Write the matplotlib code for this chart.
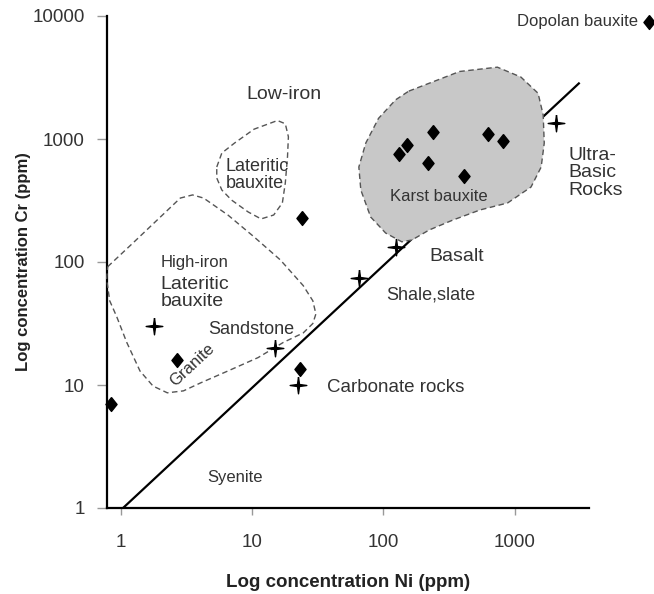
import matplotlib
matplotlib.use("Agg")
import matplotlib.pyplot as plt
from matplotlib.ticker import NullLocator

plt.rcParams["font.family"] = "Liberation Sans"

# bauxite samples (diamonds)
diamond_ni = [0.84, 2.7, 23, 24]
diamond_cr = [7, 16, 13.5, 230]
karst_ni = [131, 151, 240, 219, 409, 627, 810]
karst_cr = [755, 894, 1130, 638, 500, 1107, 963]
dopolan_ni = [10500]
dopolan_cr = [9000]

# reference rocks (stars)
star_ni = [1.8, 15, 22.5, 65, 124, 2080]
star_cr = [30, 20, 10, 74, 132, 1360]

# Ni = Cr reference line
line_ni = [1.04, 3080]
line_cr = [1, 2830]

# field outlines
lowiron_ni = [5.38, 5.88, 7.35, 10.35, 15.6, 17.9, 18.9, 18.6, 17.9, 17.0, 14.6, 11.7, 9.34, 6.97, 5.88, 5.38]
lowiron_cr = [592, 769, 927, 1202, 1413, 1330, 1042, 714, 439, 302, 241, 224, 255, 319, 385, 482]

highiron_ni = [0.794, 1.24, 2.0, 2.84, 3.52, 4.27, 6.54, 10.35, 16.4, 24.5, 29.0, 30.6, 29.0, 24.5,
               17.3, 11.1, 6.54, 4.05, 3.0, 2.26, 1.76, 1.40, 1.11, 0.932, 0.823, 0.78]
highiron_cr = [91.5, 143, 232, 331, 351, 331, 241, 160, 104, 64.3, 48.4, 37.8, 31.6, 26.5,
               22.2, 16.7, 13.0, 10.4, 8.96, 8.64, 9.8, 13.0, 22.2, 35.8, 48.4, 72.7]

karst_field_ni = [156, 381, 738, 1114, 1507, 1648, 1679, 1591, 1331, 883, 545, 337, 223, 165,
                  138, 104, 80, 67.3, 65, 73.4, 91.8, 124]
karst_field_cr = [2450, 3540, 3837, 3190, 2354, 1567, 927, 592, 407, 302, 265, 219, 182, 151,
                  146, 172, 232, 385, 592, 927, 1472, 2084]

ticks = [1, 10, 100, 1000, 10000]
tick_labels = ["1", "10", "100", "1000", "10000"]

text_col = "#333333"
dash_col = "#555555"

fig = plt.figure(figsize=(6.54, 5.94), dpi=100)
ax = fig.add_axes([107 / 654, 86 / 594, 482 / 654, 492 / 594])
ax.set_xscale("log")
ax.set_yscale("log")
ax.set_xlim(0.785, 3680)
ax.set_ylim(1, 10000)

ax.plot(line_ni, line_cr, color="black", lw=1.6, zorder=2)

ax.fill(karst_field_ni, karst_field_cr, facecolor="#c8c8c8", edgecolor=dash_col,
        linestyle=(0, (4, 2.5)), lw=1.0, zorder=3)
ax.fill(lowiron_ni, lowiron_cr, fill=False, edgecolor=dash_col,
        linestyle=(0, (4, 2.5)), lw=1.0, zorder=3)
ax.fill(highiron_ni, highiron_cr, fill=False, edgecolor=dash_col,
        linestyle=(0, (4, 2.5)), lw=1.0, zorder=3, clip_on=False)

diamond = [(0, 1), (0.8, 0), (0, -1), (-0.8, 0), (0, 1)]
star = [(0, 1), (0.12, 0.12), (1, 0), (0.12, -0.12), (0, -1), (-0.12, -0.12),
        (-1, 0), (-0.12, 0.12), (0, 1)]

ax.plot(diamond_ni, diamond_cr, ls="none", marker=diamond, ms=10, color="black",
        zorder=5, clip_on=False)
ax.plot(karst_ni, karst_cr, ls="none", marker=diamond, ms=10, color="black", zorder=5)
ax.plot(dopolan_ni, dopolan_cr, ls="none", marker=diamond, ms=10, color="black",
        zorder=5, clip_on=False)
ax.plot(star_ni, star_cr, ls="none", marker=star, ms=12, color="black", zorder=5)

# labels
ax.text(17.6, 2300, "Low-iron", fontsize=14, color=text_col, ha="center", va="center")
ax.text(6.3, 509, "Lateritic\nbauxite", fontsize=13, color=text_col, ha="left", va="center",
        linespacing=1.05)
ax.text(2.0, 100, "High-iron", fontsize=12, color=text_col, ha="left", va="center")
ax.text(2.0, 56, "Lateritic\nbauxite", fontsize=14, color=text_col, ha="left", va="center",
        linespacing=1.0)
ax.text(9.8, 28.5, "Sandstone", fontsize=13, color=text_col, ha="center", va="center")
ax.text(3.52, 14.5, "Granite", fontsize=12, color=text_col, ha="center", va="center",
        rotation=43)
ax.text(7.4, 1.76, "Syenite", fontsize=12, color=text_col, ha="center", va="center")
ax.text(124, 9.6, "Carbonate rocks", fontsize=13.5, color=text_col, ha="center", va="center")
ax.text(228, 53.8, "Shale,slate", fontsize=13, color=text_col, ha="center", va="center")
ax.text(361, 110, "Basalt", fontsize=14, color=text_col, ha="center", va="center")
ax.text(2580, 530, "Ultra-\nBasic\nRocks", fontsize=14, color=text_col, ha="left",
        va="center", linespacing=1.05)
ax.text(262, 344, "Karst bauxite", fontsize=12, color=text_col, ha="center", va="center",
        zorder=4)
ax.text(8670, 9030, "Dopolan bauxite", fontsize=12, color=text_col, ha="right", va="center")

ax.spines["top"].set_visible(False)
ax.spines["right"].set_visible(False)
for side in ["left", "bottom"]:
    ax.spines[side].set_linewidth(1.6)
    ax.spines[side].set_color("black")

ax.set_xticks(ticks[:4])
ax.set_xticklabels(tick_labels[:4])
ax.set_yticks(ticks)
ax.set_yticklabels(tick_labels)
ax.xaxis.set_minor_locator(NullLocator())
ax.yaxis.set_minor_locator(NullLocator())
ax.tick_params(axis="x", length=5, width=1, color="#999999", pad=14,
               labelsize=13.5, labelcolor=text_col)
ax.tick_params(axis="y", length=7, width=1, color="#999999", pad=9,
               labelsize=13.5, labelcolor=text_col)

ax.set_xlabel("Log concentration Ni (ppm)", fontsize=13.5, fontweight="bold", color="#222222",
              labelpad=16)
ax.set_ylabel("Log concentration Cr (ppm)", fontsize=12, fontweight="bold", color="#222222",
              labelpad=1)

fig.savefig("out.png", dpi=100)
